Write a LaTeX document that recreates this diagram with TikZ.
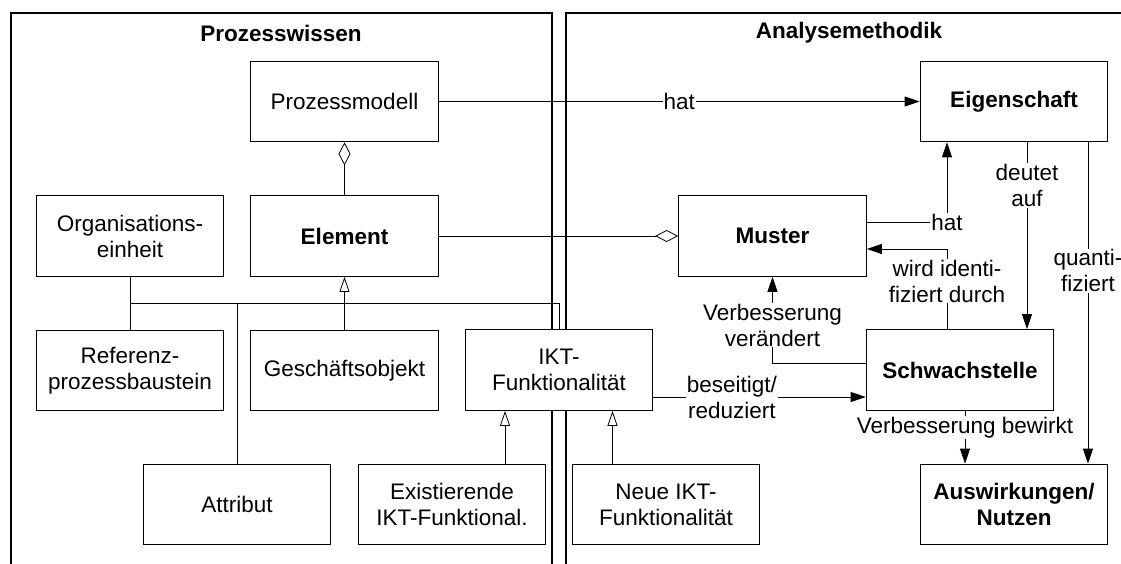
\documentclass[tikz,border=0pt]{standalone}
\usepackage{fontspec}
\setmainfont{Liberation Sans}
\usetikzlibrary{arrows.meta}

\begin{document}
\begin{tikzpicture}[x=1pt,y=-1pt,
        font=\fontsize{22.5}{26}\selectfont,
        strong/.style={font=\fontsize{22.5}{26}\selectfont\bfseries},
        panel/.style={line width=1.4pt},
        box/.style={draw,line width=1.2pt,fill=white,minimum width=187.5pt,
            minimum height=80.5pt,align=center,inner sep=0pt},
        link/.style={line width=0.8pt},
        assoc/.style={link,-{Triangle[length=15pt,width=10pt]}},
        inherit/.style={link,-{Triangle[open,fill=white,length=15pt,width=10pt]}},
        aggreg/.style={link,-{Diamond[open,fill=white,length=23pt,width=12pt]}},
        label/.style={fill=white,inner sep=1pt,align=center}]
    \useasboundingbox (0,0) rectangle (1121,564);
    % panels
    \draw[panel] (11,566) -- (11,13) -- (552,13) -- (552,566);
    \draw[panel] (566,566) -- (566,13) -- (1123,13);
    \node[strong] (wissen) at (281,33) {Prozesswissen};
    \node[strong] (methodik) at (849,33) {Analysemethodik};
    % Prozesswissen
    \node[box] (modell) at (344.5,101.5) {Prozessmodell};
    \node[box,strong] (element) at (344.5,236) {Element};
    \node[box] (orga) at (130,236) {Organisations-\\einheit};
    \node[box] (referenz) at (130,370.5) {Referenz-\\prozessbaustein};
    \node[box] (gobjekt) at (344.5,370.5) {Geschäftsobjekt};
    \node[box] (ikt) at (559,370) {IKT-\\Funktionalität};
    \node[box] (attribut) at (237,504.5) {Attribut};
    \node[box] (existierend) at (452,504.5) {Existierende\\IKT-Funktional.};
    % Analysemethodik
    \node[box,strong] (eigenschaft) at (1014,101.5) {Eigenschaft};
    \node[box,strong] (muster) at (772.5,236) {Muster};
    \node[box,strong] (schwach) at (960,370) {Schwachstelle};
    \node[box,strong] (nutzen) at (1014,504.5) {Auswirkungen/\\Nutzen};
    \node[box] (neu) at (666,504.5) {Neue IKT-\\Funktionalität};
    % generalization
    \coordinate (bus) at (0,303);
    \draw[inherit] (gobjekt) -- (element);
    \draw[link] (orga) -- (referenz);
    \draw[link] (orga.south |- bus) -- (ikt.north |- bus) -- (ikt.north);
    \draw[link] (attribut.north) -- (attribut.north |- bus);
    \draw[inherit] ([xshift=53pt]existierend.north) -- ([xshift=-54pt]ikt.south);
    \draw[inherit] ([xshift=-53.5pt]neu.north) -- ([xshift=53.5pt]ikt.south);
    % aggregation
    \draw[aggreg] (element) -- (modell);
    \draw[aggreg] (element) -- (muster);
    % associations
    \draw[assoc] (modell) -- node[label] {hat} (eigenschaft);
    \draw[assoc] ([yshift=14pt]muster.east) -| node[label,pos=0.5] {hat}
        ([xshift=-67pt]eigenschaft.south);
    \draw[assoc] ([xshift=-13pt]schwach.north) |- node[label,pos=0.3] {wird identi-\\fiziert durch}
        ([yshift=-13pt]muster.east);
    \draw[assoc] ([xshift=13pt]eigenschaft.south) -- node[label,pos=0.23] {deutet\\auf}
        ([xshift=67pt]schwach.north);
    \draw[assoc] ([xshift=74pt]eigenschaft.south) -- node[label,pos=0.4] {quanti-\\fiziert}
        ([xshift=74pt]nutzen.north);
    \draw[assoc] ([xshift=5pt]schwach.south) -- node[label,pos=0.32] {Verbesserung bewirkt}
        ([xshift=-49pt]nutzen.north);
    \draw[assoc] ([yshift=-27pt]ikt.east) -- node[label,pos=0.37] {beseitigt/\\reduziert}
        ([yshift=-27pt]schwach.west);
    \draw[assoc] ([yshift=7pt]schwach.west) -| node[label,pos=0.72] {Verbesserung\\verändert}
        (muster.south);
\end{tikzpicture}
\end{document}
